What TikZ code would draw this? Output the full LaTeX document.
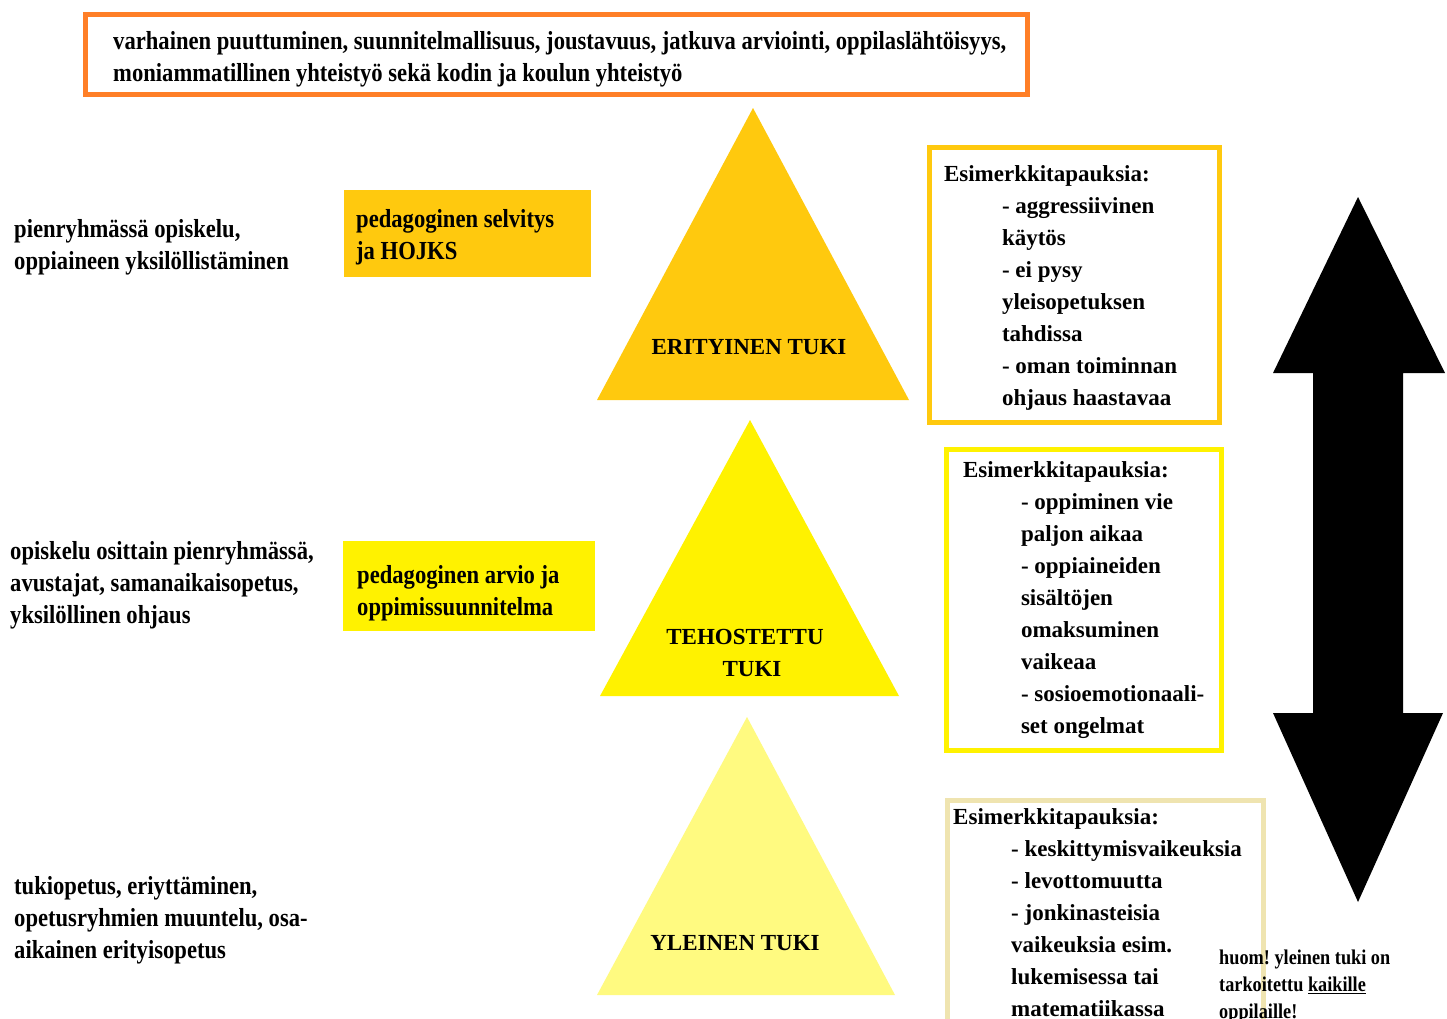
\documentclass[tikz,border=0pt]{standalone}
\usepackage{fontspec}
\setmainfont{Liberation Serif}
\newfontfamily\kapea[FakeStretch=0.87]{Liberation Serif}
\definecolor{oranssi}{HTML}{FF7F27}
\definecolor{erityinen}{HTML}{FFC90E}
\definecolor{tehostettu}{HTML}{FFF200}
\definecolor{yleinen}{HTML}{FFFA80}
\definecolor{beige}{HTML}{EFE4B0}
\newcommand\sisalle{\hspace*{58pt}}
\frenchspacing

\begin{document}
\begin{tikzpicture}[x=1pt,y=-1pt,
    kapeat/.style={font=\kapea\bfseries\fontsize{26}{32}\selectfont,align=left,inner sep=0pt,anchor=north west},
    esim/.style={draw,line width=5pt,font=\bfseries\fontsize{23}{32}\selectfont,align=flush left,anchor=north west,inner ysep=0pt},
    lappu/.style={anchor=north west,inner sep=0pt},
    taso/.style={font=\bfseries\fontsize{23}{32}\selectfont,align=center,inner sep=0pt}]
    \clip (0,0) rectangle (1447,1018);
    \fill[white] (0,0) rectangle (1447,1018);

    \node[draw=oranssi,line width=5pt,minimum width=942pt,minimum height=80pt,anchor=north west] (kehys) at (83,12) {};
    \node[kapeat] (periaatteet) at (113,31)
        {varhainen puuttuminen, suunnitelmallisuus, joustavuus, jatkuva arviointi, oppilaslähtöisyys,\\moniammatillinen yhteistyö sekä kodin ja koulun yhteistyö};

    % tuen kolme tasoa
    \fill[erityinen] (753,108) -- (909,400) -- (597,400) -- cycle;
    \fill[tehostettu] (750,420) -- (899,696) -- (600,696) -- cycle;
    \fill[yleinen] (747,717) -- (895,995) -- (597,995) -- cycle;
    \node[taso] (eritt) at (749,347) {ERITYINEN TUKI};
    \node[taso] (tehot) at (745,653) {TEHOSTETTU\\\hspace*{14pt}TUKI};
    \node[taso] (yleist) at (735,943) {YLEINEN TUKI};

    \node[lappu,fill=erityinen,minimum width=247pt,minimum height=87pt] (selvitys) at (344,190) {};
    \node[kapeat] (selvitysteksti) at (356,209) {pedagoginen selvitys\\ja HOJKS};
    \node[lappu,fill=tehostettu,minimum width=252pt,minimum height=90pt] (arvio) at (343,541) {};
    \node[kapeat] (arvioteksti) at (357,565) {pedagoginen arvio ja\\oppimissuunnitelma};

    \node[kapeat] (erikeinot) at (14,219) {pienryhmässä opiskelu,\\oppiaineen yksilöllistäminen};
    \node[kapeat] (tehokeinot) at (10,541) {opiskelu osittain pienryhmässä,\\avustajat, samanaikaisopetus,\\yksilöllinen ohjaus};
    \node[kapeat] (yleiskeinot) at (14,876) {tukiopetus, eriyttäminen,\\opetusryhmien muuntelu, osa-\\aikainen erityisopetus};

    \node[esim,draw=erityinen,minimum width=290pt,minimum height=275pt,text width=261pt,inner xsep=14.5pt] (esim1) at (927,145)
        {\rule{0pt}{22pt}Esimerkkitapauksia:\\\sisalle-~aggressiivinen\\\sisalle käytös\\\sisalle-~ei pysy\\\sisalle yleisopetuksen\\\sisalle tahdissa\\\sisalle-~oman toiminnan\\\sisalle ohjaus haastavaa};
    \node[esim,draw=tehostettu,minimum width=275pt,minimum height=301pt,text width=242pt,inner xsep=16.5pt] (esim2) at (944,447)
        {Esimerkkitapauksia:\\\sisalle-~oppiminen vie\\\sisalle paljon aikaa\\\sisalle-~oppiaineiden\\\sisalle sisältöjen\\\sisalle omaksuminen\\\sisalle vaikeaa\\\sisalle\mbox{-~sosioemotionaali-}\\\sisalle set ongelmat};
    \node[draw=beige,line width=5pt,minimum width=316pt,minimum height=260pt,anchor=north west] (kehys3) at (945,798) {};
    \node[font=\bfseries\fontsize{23}{32}\selectfont,align=left,inner sep=0pt,anchor=north west] (esim3) at (953,808)
        {Esimerkkitapauksia:\\\sisalle-~keskittymisvaikeuksia\\\sisalle-~levottomuutta\\\sisalle-~jonkinasteisia\\\sisalle vaikeuksia esim.\\\sisalle lukemisessa tai\\\sisalle matematiikassa};

    \node[kapeat,font=\kapea\bfseries\fontsize{21}{27}\selectfont] (huom) at (1219,950)
        {huom! yleinen tuki on\\tarkoitettu \underline{kaikille}\\oppilaille!};

    % kaksisuuntainen nuoli
    \fill[black] (1358,197) -- (1445,373) -- (1403,373) -- (1403,713) -- (1443,713) -- (1358,902)
        -- (1273,713) -- (1313,713) -- (1313,373) -- (1273,373) -- cycle;
\end{tikzpicture}
\end{document}
